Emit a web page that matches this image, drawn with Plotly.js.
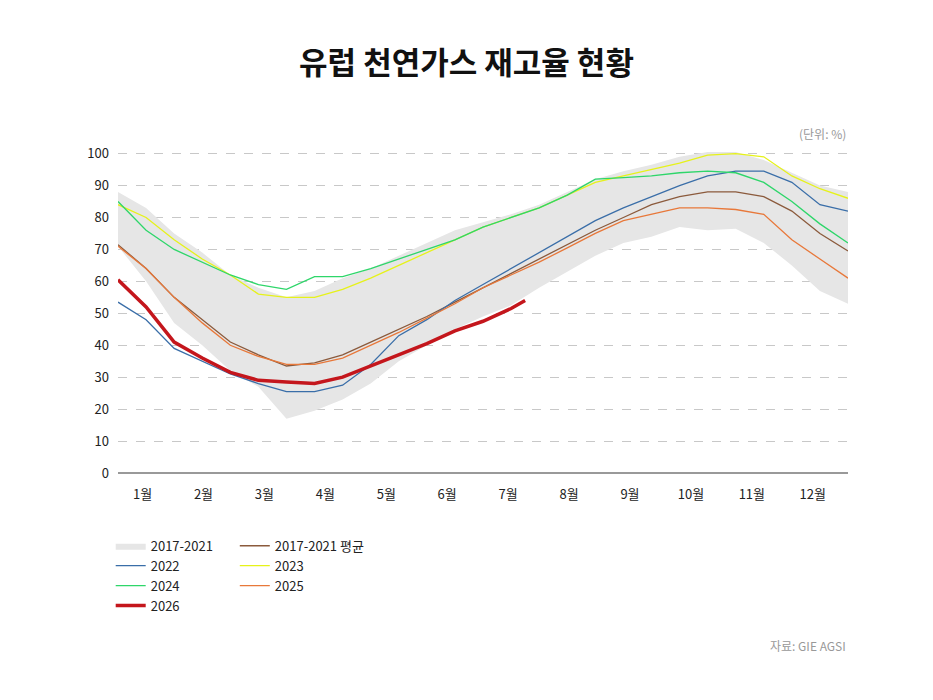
<!DOCTYPE html>
<html><head><meta charset="utf-8">
<script src="https://cdn.plot.ly/plotly-3.0.1.min.js"></script>
<style>body{margin:0;background:#fff}#chart{width:933px;height:700px}</style>
</head><body><div id="chart"></div>
<script>
// x = week of year (every 2 weeks)
const weeks = [0,2,4,6,8,10,12,14,16,18,20,22,24,26,28,30,32,34,36,38,40,42,44,46,48,50,52];
const months = ['1월','2월','3월','4월','5월','6월','7월','8월','9월','10월','11월','12월'];
const bandUpper = [88,83,75,69,62,58,55,57,61,64,68,72,76,78.5,81,84,88,92,94.5,96.5,99,100.5,100.5,98,94,90,88];
const bandLower = [71,60,47,40,32,27,17,19.5,23,28,35,40,45,49,52.5,58,63,68,72,74,77,76,76.5,72,65,57,53];
const avg = [71.5,64,55,48,41,37,33.5,34.5,37,41,45,49,53.5,58,62.5,67,71.5,76,80,84,86.5,88,88,86.5,82,75,69.5];
const y2022 = [53.5,48,39,35,31,28,25.5,25.5,27.5,34,43,48,54,59,64,69,74,79,83,86.5,90,93,94.5,94.5,91,84,82];
const y2023 = [84,80,73,67,62,56,55,55,57.5,61,65,69,73,77,80,83,87,91,93,95,97,99.5,100,99,93,89,86];
const y2024 = [85,76,70,66,62,59,57.5,61.5,61.5,64,67,70,73,77,80,83,87,92,92.5,93,94,94.5,94,91,85,78,72];
const y2025 = [71,64,55,47,40,36.5,34,34,36,40,44,48.5,53,58,62,66,70.5,75,79,81,83,83,82.5,81,73,67,61];
const weeks2026 = [0,2,4,6,8,10,12,14,16,18,20,22,24,26,28,29];
const y2026 = [60.5,52,41,36,31.5,29,28.5,28,30,33.5,37,40.5,44.5,47.5,51.5,54];

const line = (name, y, color, legend, w = 1.3, x = weeks) => ({
  x, y, name, type: 'scatter', mode: 'lines', legend,
  line: { color, width: w }
});

const traces = [
  { x: weeks, y: bandUpper, type: 'scatter', mode: 'lines', line: { width: 0 }, showlegend: false, hoverinfo: 'skip' },
  { x: weeks, y: bandLower, name: '2017-2021', type: 'scatter', mode: 'lines', fill: 'tonexty',
    fillcolor: '#e6e6e6', line: { width: 0, color: '#e6e6e6' }, legend: 'legend' },
  line('2017-2021 평균', avg, '#8b5a3c', 'legend2'),
  line('2022', y2022, '#3a6ea8', 'legend'),
  line('2023', y2023, '#e6f21a', 'legend2'),
  line('2024', y2024, '#2ed66a', 'legend'),
  line('2025', y2025, '#e8783a', 'legend2'),
  line('2026', y2026, '#c4161c', 'legend', 3.5, weeks2026)
];

const font = { family: 'Noto Sans CJK KR, Noto Sans, sans-serif', color: '#222', size: 13 };
const legendBase = {
  orientation: 'v', xref: 'paper', yref: 'paper', yanchor: 'top', traceorder: 'normal',
  font: { ...font, size: 13 }, tracegroupgap: 0, itemwidth: 30, bgcolor: 'rgba(0,0,0,0)'
};

const layout = {
  width: 933, height: 700,
  margin: { l: 118, r: 85, t: 152, b: 227 },
  paper_bgcolor: '#fff', plot_bgcolor: '#fff',
  font,
  showlegend: true,
  title: { text: '<b>유럽 천연가스 재고율 현황</b>', x: 0.5, xanchor: 'center', y: 0.925,
    font: { ...font, size: 31, color: '#111' } },
  xaxis: {
    range: [0, 52], showgrid: false, zeroline: false,
    tickvals: months.map((m, i) => 1.75 + 4.34 * i), ticktext: months,
    ticks: '', tickfont: { ...font, size: 13 }, ticklabelstandoff: 12,
    showline: false
  },
  yaxis: {
    range: [0, 100.5], dtick: 10, tick0: 0, gridcolor: '#c8c8c8', griddash: 'dash',
    zeroline: true, zerolinecolor: '#999', zerolinewidth: 2,
    tickfont: { ...font, size: 13 }, ticks: '', ticklabelstandoff: 8
  },
  legend: { ...legendBase, x: -0.01, y: -0.18 },
  legend2: { ...legendBase, x: 0.16, y: -0.18 },
  annotations: [
    { text: '(단위: %)', xref: 'paper', yref: 'paper', x: 1.0, y: 1.09, xanchor: 'right',
      showarrow: false, font: { ...font, size: 12, color: '#999' } },
    { text: '자료: GIE AGSI', xref: 'paper', yref: 'paper', x: 1.0, y: -0.57, xanchor: 'right',
      showarrow: false, font: { ...font, size: 12, color: '#999' } }
  ]
};

Plotly.newPlot('chart', traces, layout, { displayModeBar: false });
</script></body></html>
